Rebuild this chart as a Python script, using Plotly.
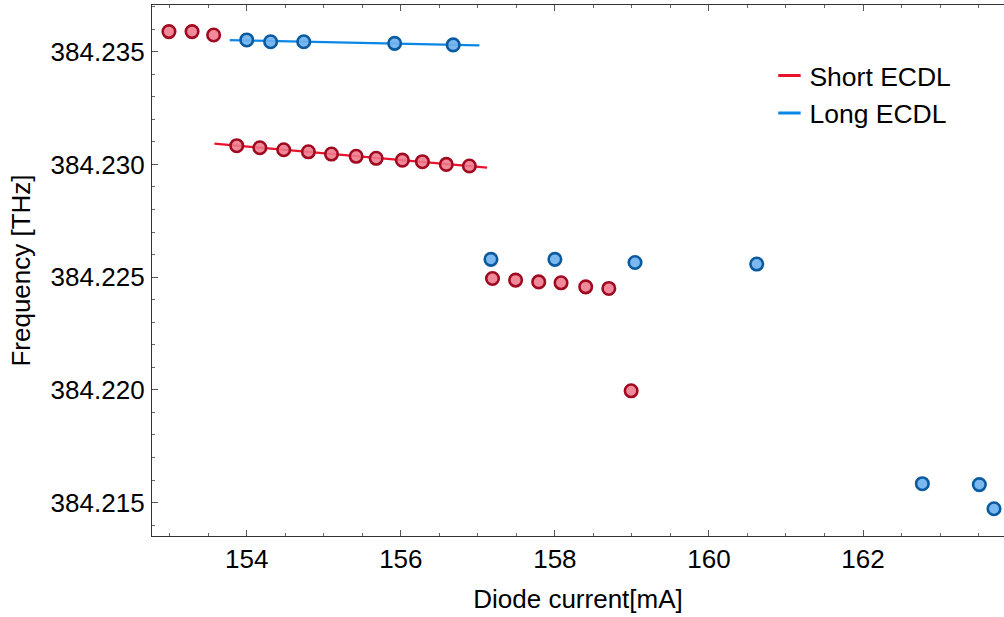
import numpy as np
import plotly.graph_objects as go

# Short ECDL data (mA, THz)
short_x1 = [152.99, 153.29, 153.57]
short_y1 = [384.23589, 384.23589, 384.23574]
short_x2 = [153.87, 154.17, 154.48, 154.80, 155.10, 155.42, 155.68, 156.02, 156.28, 156.59, 156.89]
short_y2 = [384.23083, 384.23074, 384.23065, 384.23056, 384.23046, 384.23036, 384.23027,
            384.23019, 384.23012, 384.23000, 384.22993]
short_x3 = [157.19, 157.49, 157.79, 158.08, 158.40, 158.70, 158.99]
short_y3 = [384.22494, 384.22487, 384.22479, 384.22475, 384.22457, 384.22450, 384.21996]

# Long ECDL data
long_x1 = [154.00, 154.31, 154.74, 155.92, 156.68]
long_y1 = [384.23552, 384.23544, 384.23544, 384.23537, 384.23530]
long_x2 = [157.17, 158.00, 159.04, 160.62, 162.77, 163.51, 163.70]
long_y2 = [384.22579, 384.22579, 384.22565, 384.22558, 384.21584, 384.21580, 384.21473]

# Fit extents
short_fit_range = [153.58, 157.12]
long_fit_range = [153.78, 157.02]

x_range = [152.77, 163.83]
y_range = [384.21352, 384.23707]

RED_LINE = "#e8122c"
RED_FILL = "rgba(238,122,140,0.88)"
RED_EDGE = "#a00a20"
BLUE_LINE = "#0a86e6"
BLUE_FILL = "rgba(112,178,238,0.92)"
BLUE_EDGE = "#0a5aa0"

FONT = "Liberation Sans, Arial, sans-serif"

fig = go.Figure()

# Fit lines
sp = np.polyfit(short_x2, short_y2, 1)
lp = np.polyfit(long_x1, long_y1, 1)
sfx = np.array(short_fit_range)
lfx = np.array(long_fit_range)
fig.add_trace(go.Scatter(x=sfx, y=np.polyval(sp, sfx), mode="lines",
                         line=dict(color=RED_LINE, width=2.2), showlegend=False, hoverinfo="skip"))
fig.add_trace(go.Scatter(x=lfx, y=np.polyval(lp, lfx), mode="lines",
                         line=dict(color=BLUE_LINE, width=2.2), showlegend=False, hoverinfo="skip"))

short_x = short_x1 + short_x2 + short_x3
short_y = short_y1 + short_y2 + short_y3
long_x = long_x1 + long_x2
long_y = long_y1 + long_y2

fig.add_trace(go.Scatter(x=short_x, y=short_y, mode="markers",
                         marker=dict(size=12.5, color=RED_FILL, line=dict(color=RED_EDGE, width=2.6)),
                         showlegend=False))
fig.add_trace(go.Scatter(x=long_x, y=long_y, mode="markers",
                         marker=dict(size=12.5, color=BLUE_FILL, line=dict(color=BLUE_EDGE, width=2.6)),
                         showlegend=False))

# Legend entries
fig.add_trace(go.Scatter(x=[None], y=[None], mode="markers", name="Short ECDL",
                         marker=dict(symbol="line-ew", size=16, line=dict(color=RED_LINE, width=3))))
fig.add_trace(go.Scatter(x=[None], y=[None], mode="markers", name="Long ECDL",
                         marker=dict(symbol="line-ew", size=16, line=dict(color=BLUE_LINE, width=3))))

axis_common = dict(
    showgrid=False, zeroline=False, showline=True, linecolor="#333333", linewidth=1.4,
    ticks="inside", ticklen=6, tickwidth=1.2, tickcolor="#555555",
    tickfont=dict(family=FONT, size=26, color="black"),
)

fig.update_xaxes(
    range=x_range, tick0=154, dtick=2, mirror="ticks",
    minor=dict(dtick=0.5, tick0=154, ticks="inside", ticklen=3, tickcolor="#666666", tickwidth=1),
    title=dict(text="Diode current[mA]", font=dict(family=FONT, size=26, color="black"), standoff=16),
    **axis_common,
)
fig.update_yaxes(
    range=y_range, tick0=384.215, dtick=0.005, tickformat=".3f", mirror=False, ticklabelstandoff=1,
    minor=dict(dtick=0.001, tick0=384.215, ticks="inside", ticklen=3, tickcolor="#666666", tickwidth=1),
    title=dict(text="Frequency [THz]", font=dict(family=FONT, size=26, color="black"), standoff=12),
    **axis_common,
)

fig.update_layout(
    width=1004, height=617,
    margin=dict(l=152, r=0, t=5, b=81),
    plot_bgcolor="white", paper_bgcolor="white",
    font=dict(family=FONT, color="black"),
    legend=dict(x=0.7247, y=0.912, xanchor="left", yanchor="top",
                font=dict(family=FONT, size=26.5, color="black"),
                bgcolor="rgba(0,0,0,0)", itemwidth=30, tracegroupgap=0),
)

fig.write_html("out.html", config={"displayModeBar": False},
               post_script="document.body.style.margin='0';")
